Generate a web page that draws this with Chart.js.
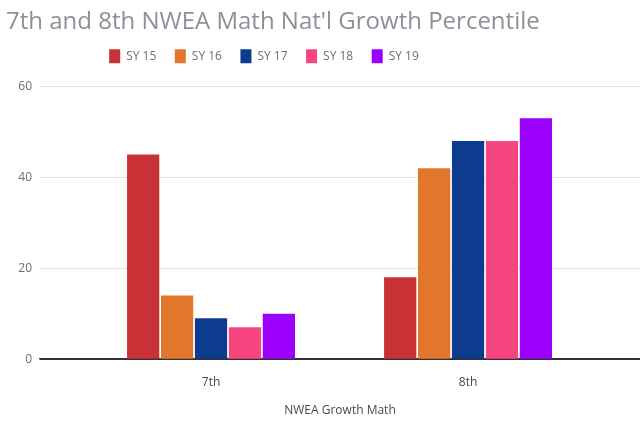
<!DOCTYPE html>
<html>
<head>
<meta charset="utf-8">
<script src="https://cdn.jsdelivr.net/npm/chart.js@4"></script>
<style>
    html, body { margin: 0; padding: 0; background: #fff; }
    #wrap { width: 640px; height: 421px; }
</style>
</head>
<body>
<div id="wrap"><canvas id="growthChart"></canvas></div>
<script>
// Chart data
const categories = ['7th', '8th'];
const seriesNames = ['SY 15', 'SY 16', 'SY 17', 'SY 18', 'SY 19'];
const sy15 = [45, 18];
const sy16 = [14, 42];
const sy17 = [9, 48];
const sy18 = [7, 48];
const sy19 = [10, 53];
const yTicks = [0, 20, 40, 60];

const seriesValues = [sy15, sy16, sy17, sy18, sy19];
const seriesColors = ['#c83236', '#e2762a', '#0d3b8e', '#f7467f', '#9b00fb'];

const FONT = "'Open Sans', Roboto, sans-serif";

// legend sits left of centre and has extra space under it in the original
const legendTweak = {
    id: 'legendTweak',
    beforeLayout(chart) {
        const lg = chart.legend;
        if (!lg || lg._tweaked) return;
        const fit = lg.fit.bind(lg);
        lg.fit = function () {
            fit();
            this.height += 13;
        };
        lg._tweaked = true;
    },
    afterLayout(chart) {
        if (!chart.legend) return;
        chart.legend.left -= 59;
        chart.legend.right -= 59;
    }
};

const ctx = document.getElementById('growthChart').getContext('2d');

new Chart(ctx, {
    type: 'bar',
    data: {
        datasets: seriesNames.map((name, i) => ({
            label: name,
            data: seriesValues[i].map((v, j) => ({ x: j, y: v })),
            backgroundColor: seriesColors[i],
            borderWidth: 0,
            categoryPercentage: 0.66,
            barPercentage: 0.95,
        }))
    },
    options: {
        responsive: true,
        maintainAspectRatio: false,
        animation: false,
        layout: { padding: { left: 6, right: 0, top: 8, bottom: 3 } },
        plugins: {
            title: {
                display: true,
                text: "7th and 8th NWEA Math Nat'l Growth Percentile",
                align: 'start',
                color: '#8c9098',
                font: { family: FONT, size: 24, weight: 'normal' },
                padding: { top: 0, bottom: -6 },
            },
            legend: {
                display: true,
                labels: {
                    boxWidth: 11,
                    boxHeight: 14,
                    padding: 18.5,
                    color: '#6b6f76',
                    font: { family: FONT, size: 12 },
                },
            },
            tooltip: { enabled: false },
        },
        scales: {
            x: {
                type: 'linear',
                offset: false,
                bounds: 'data',
                min: -0.6654,
                max: 1.669,
                afterBuildTicks: (scale) => {
                    scale.ticks = categories.map((c, i) => ({ value: i }));
                },
                ticks: {
                    color: '#4a4a4a',
                    font: { family: FONT, size: 12 },
                    callback: (value) => categories[value],
                    padding: 8,
                },
                grid: { display: false },
                border: { display: true, color: '#333', width: 1.5 },
                title: {
                    display: true,
                    text: 'NWEA Growth Math',
                    color: '#4a4a4a',
                    font: { family: FONT, size: 12 },
                    padding: { top: 6, bottom: 0 },
                },
            },
            y: {
                min: 0,
                max: 60,
                afterBuildTicks: (scale) => {
                    scale.ticks = yTicks.map(v => ({ value: v }));
                },
                afterFit: (scale) => {
                    scale.width = 34;
                },
                ticks: {
                    color: '#6b6f76',
                    font: { family: FONT, size: 12 },
                    padding: 8,
                },
                grid: {
                    color: (c) => c.tick.value === 0 ? '#333' : '#e2e2e2',
                    lineWidth: 1,
                    drawTicks: false,
                },
                border: { display: false },
            },
        },
    },
    plugins: [legendTweak],
});
</script>
</body>
</html>
